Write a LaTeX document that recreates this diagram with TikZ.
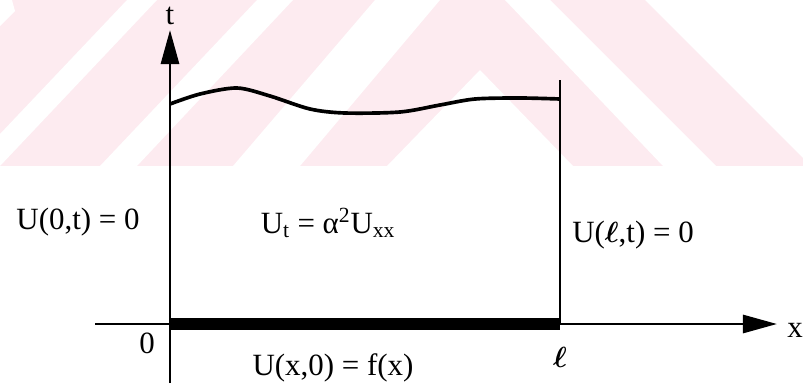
\documentclass[tikz,border=0pt]{standalone}
\usepackage{amsmath}
\usepackage{fontspec}
\setmainfont{Liberation Serif}
\usepackage{tikz}
\usetikzlibrary{arrows.meta}
\definecolor{wmpink}{RGB}{253,235,240}

\begin{document}
\begin{tikzpicture}[x=0.025cm, y=-0.025cm,
  axis/.style={line width=2pt, -{Triangle[length=8.5mm, width=4.5mm]}},
  bdry/.style={line width=2pt},
  lab/.style={font=\fontsize{22}{25}\selectfont, inner sep=0pt}
]
\useasboundingbox (0,0) rectangle (803,390);
% faint watermark of the scan
\fill[wmpink] (0,0) rectangle (803,166);
\fill[white] (0,0) -- (12,0) -- (15,11) -- (0,26) -- cycle;
\fill[white] (127,0) -- (157,0) -- (0,166) -- (0,134) -- cycle;
\fill[white] (257,0) -- (293,0) -- (137,166) -- (100,166) -- cycle;
\fill[white] (375,0) -- (440,0) -- (300,166) -- (233,166) -- cycle;
\fill[white] (480,70) -- (573,166) -- (387,166) -- cycle;
\fill[white] (505,0) -- (550,0) -- (716,166) -- (663,166) -- cycle;
\fill[white] (645,0) -- (803,0) -- (803,158) -- cycle;

\coordinate (O) at (170,324);
\coordinate (tstart) at (170,383);
\coordinate (tend) at (170,30);
\coordinate (xstart) at (95,324);
\coordinate (xend) at (777,324);
\coordinate (L) at (560,324);
\coordinate (Ltop) at (560,80);

% axes and boundary
\draw[axis] (tstart) -- (tend);
\draw[axis] (xstart) -- (xend);
\draw[line width=8pt] (O) -- (L);
\draw[bdry] (L) -- (Ltop);
\draw[bdry, line width=2.6pt] plot[smooth] coordinates {(170,104) (200,94) (237,88) (270,96)
  (310,109) (345,113) (400,112) (440,105) (475,99) (520,98) (560,99)};

\node[lab] (tlab) at (170,16) {t};
\node[lab] (xlab) at (795,330) {x};
\node[lab] (bcleft) at (78,222) {U(0,t) = 0};
\node[lab] (pde) at (328,223) {U\textsubscript{t} = α\textsuperscript{2}U\textsubscript{xx}};
\node[lab] (bcright) at (633,235) {U($\boldsymbol{\ell}$,t) = 0};
\node[lab] (zero) at (147,343) {0};
\node[lab] (init) at (333,368) {U(x,0) = f(x)};
\node[lab] (ell) at (560,357) {$\boldsymbol{\ell}$};
\end{tikzpicture}
\end{document}
